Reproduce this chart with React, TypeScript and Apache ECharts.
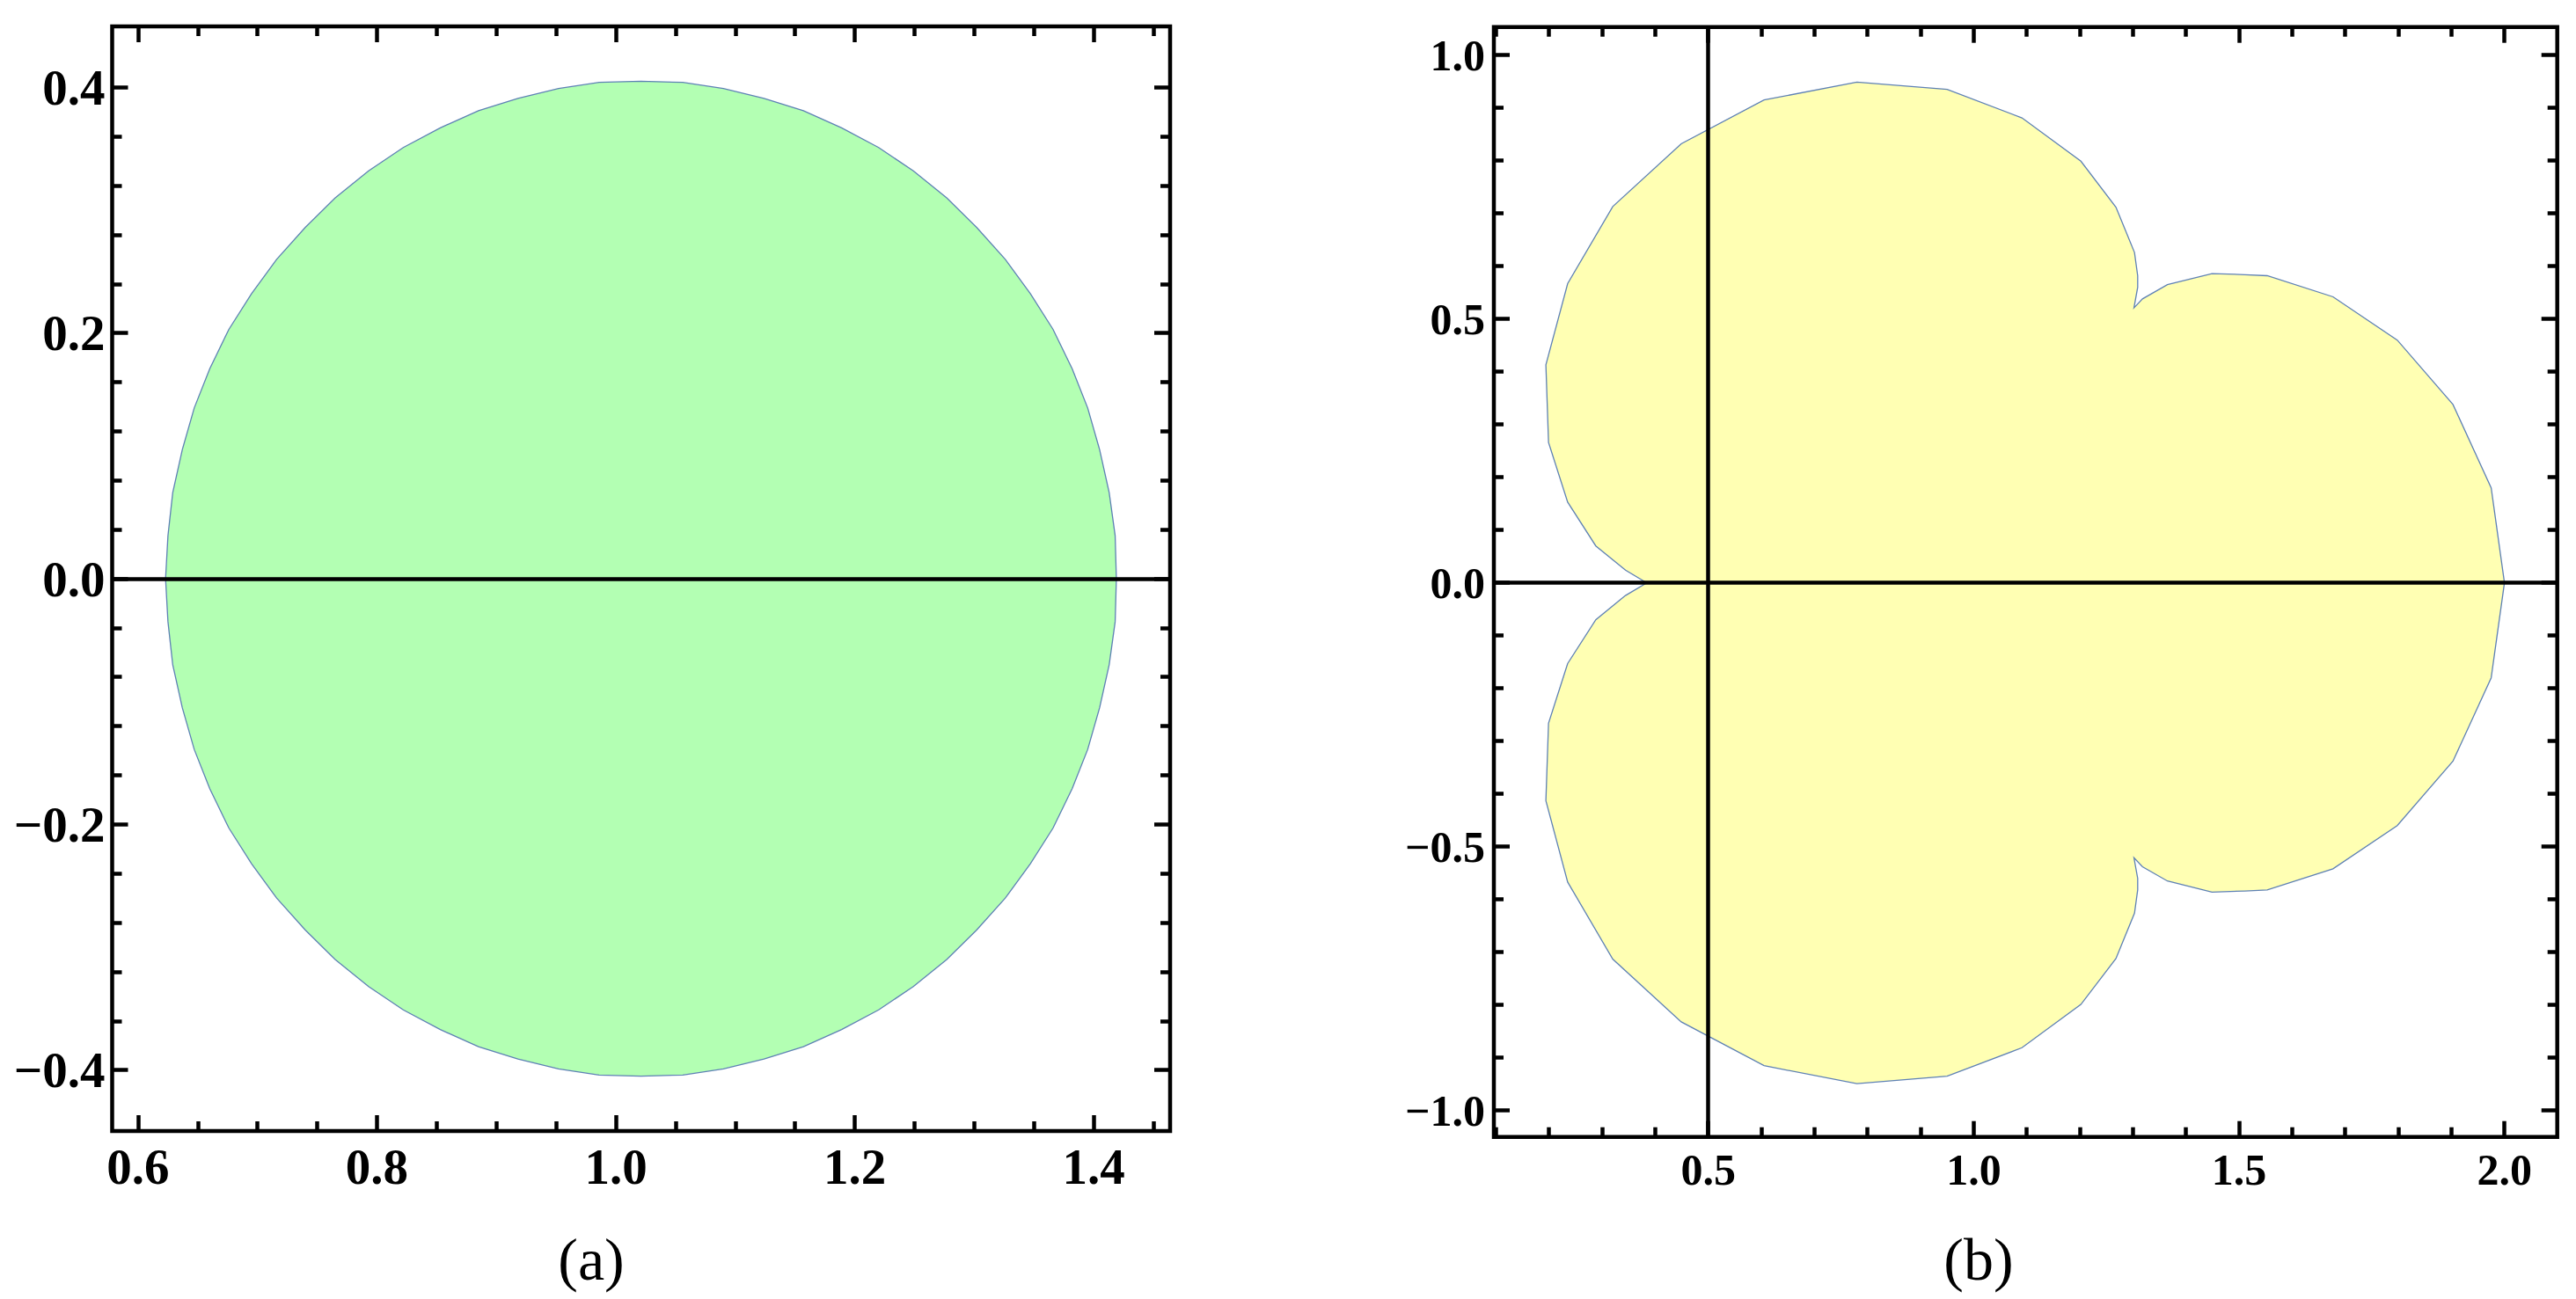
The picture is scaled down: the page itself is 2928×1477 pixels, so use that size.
import React, { useEffect, useRef } from 'react';
import * as echarts from 'echarts';

// ---------- data ----------
// (a) region boundary
const circleX = [1.419, 1.418, 1.413, 1.405, 1.395, 1.382, 1.366, 1.347, 1.326, 1.302, 1.277, 1.249, 1.220, 1.189, 1.157, 1.124, 1.090, 1.056,
  1.021, 0.986, 0.952, 0.918, 0.885, 0.853, 0.822, 0.793, 0.765, 0.740, 0.716, 0.695, 0.676, 0.660, 0.647, 0.637, 0.629, 0.625,
  0.623, 0.625, 0.629, 0.637, 0.647, 0.660, 0.676, 0.695, 0.716, 0.740, 0.765, 0.793, 0.822, 0.853, 0.885, 0.918, 0.952, 0.986,
  1.021, 1.056, 1.090, 1.124, 1.157, 1.189, 1.220, 1.249, 1.277, 1.302, 1.326, 1.347, 1.366, 1.382, 1.395, 1.405, 1.413, 1.418];
const circleY = [0.000, 0.035, 0.070, 0.105, 0.139, 0.171, 0.203, 0.232, 0.260, 0.286, 0.310, 0.332, 0.351, 0.367, 0.381, 0.391, 0.399, 0.404,
  0.405, 0.404, 0.399, 0.391, 0.381, 0.367, 0.351, 0.332, 0.310, 0.286, 0.260, 0.232, 0.203, 0.171, 0.139, 0.105, 0.070, 0.035,
  0.000, -0.035, -0.070, -0.105, -0.139, -0.171, -0.203, -0.232, -0.260, -0.286, -0.310, -0.332, -0.351, -0.367, -0.381, -0.391, -0.399, -0.404,
  -0.405, -0.404, -0.399, -0.391, -0.381, -0.367, -0.351, -0.332, -0.310, -0.286, -0.260, -0.232, -0.203, -0.171, -0.139, -0.105, -0.070, -0.035];

// (b) region boundary
const cloverX = [2.000, 1.975, 1.903, 1.798, 1.677, 1.553, 1.511, 1.449, 1.365, 1.318, 1.302, 1.309, 1.309, 1.303, 1.268, 1.202, 1.091, 0.950, 0.780, 0.605, 0.449, 0.320, 0.235, 0.194, 0.199, 0.235, 0.288, 0.344,
  0.384,
  0.344, 0.288, 0.235, 0.199, 0.194, 0.235, 0.320, 0.449, 0.605, 0.780, 0.950, 1.091, 1.202, 1.268, 1.303, 1.309, 1.309, 1.302, 1.318, 1.365, 1.449, 1.511, 1.553, 1.677, 1.798, 1.903, 1.975];
const cloverY = [0.000, 0.180, 0.338, 0.460, 0.542, 0.582, 0.584, 0.586, 0.565, 0.538, 0.521, 0.560, 0.582, 0.626, 0.712, 0.799, 0.881, 0.935, 0.949, 0.915, 0.832, 0.713, 0.567, 0.413, 0.266, 0.153, 0.070, 0.024,
  0.000,
  -0.024, -0.070, -0.153, -0.266, -0.413, -0.567, -0.713, -0.832, -0.915, -0.949, -0.935, -0.881, -0.799, -0.712, -0.626, -0.582, -0.560, -0.521, -0.538, -0.565, -0.586, -0.584, -0.582, -0.542, -0.460, -0.338, -0.180];

// tick values
const leftXTicks = [0.6, 0.8, 1.0, 1.2, 1.4];
const leftXMinor = [0.65, 0.7, 0.75, 0.85, 0.9, 0.95, 1.05, 1.1, 1.15, 1.25, 1.3, 1.35, 1.45];
const leftYTicks = [-0.4, -0.2, 0.0, 0.2, 0.4];
const leftYMinor = [-0.36, -0.32, -0.28, -0.24, -0.16, -0.12, -0.08, -0.04, 0.04, 0.08, 0.12, 0.16, 0.24, 0.28, 0.32, 0.36];
const rightXTicks = [0.5, 1.0, 1.5, 2.0];
const rightXMinor = [0.1, 0.2, 0.3, 0.4, 0.6, 0.7, 0.8, 0.9, 1.1, 1.2, 1.3, 1.4, 1.6, 1.7, 1.8, 1.9];
const rightYTicks = [-1.0, -0.5, 0.0, 0.5, 1.0];
const rightYMinor = [-0.9, -0.8, -0.7, -0.6, -0.4, -0.3, -0.2, -0.1, 0.1, 0.2, 0.3, 0.4, 0.6, 0.7, 0.8, 0.9];

const leftRange = { xMin: 0.5783, xMax: 1.464, yMin: -0.4496, yMax: 0.4496 };
const rightRange = { xMin: 0.096, xMax: 2.0995, yMin: -1.05, yMax: 1.0533 };

const captions = ['(a)', '(b)'];

// ---------- styling ----------
const SERIF = '"Liberation Serif", "Times New Roman", serif';
const fmt = (v: number) => {
  const s = Math.abs(v) < 1e-9 ? '0.0' : v.toFixed(1);
  return s.replace('-', '\u2212');
};

function axis(gridIndex: number, position: string, min: number, max: number,
  ticks: number[], tickLen: number, labels: boolean, fontSize: number, margin: number) {
  return {
    type: 'value',
    gridIndex,
    position,
    min,
    max,
    axisLine: { show: false, onZero: false },
    splitLine: { show: false },
    axisTick: {
      show: true,
      inside: true,
      length: tickLen,
      customValues: ticks,
      lineStyle: { color: '#000', width: 4.5 },
    },
    axisLabel: {
      show: labels,
      customValues: ticks,
      formatter: fmt,
      fontFamily: SERIF,
      fontWeight: 'bold',
      fontSize,
      color: '#000',
      margin,
    },
  };
}

function polygonSeries(xs: number[], ys: number[], axisIndex: number, fill: string, markData: any[]) {
  const data = xs.map((x, i) => [x, ys[i]]);
  return {
    type: 'custom',
    xAxisIndex: axisIndex,
    yAxisIndex: axisIndex,
    data,
    encode: { x: 0, y: 1 },
    clip: true,
    silent: true,
    renderItem: (params: any, api: any) => {
      if (params.dataIndex !== 0) return null;
      const pts = data.map((d) => api.coord(d));
      return {
        type: 'polygon',
        shape: { points: pts },
        style: { fill, stroke: '#5E81B5', lineWidth: 1.3 },
      };
    },
    markLine: {
      silent: true,
      symbol: ['none', 'none'],
      label: { show: false },
      lineStyle: { color: '#000', width: 4.5, type: 'solid' },
      data: markData,
      z: 5,
    },
  };
}

export default function App() {
  const ref = useRef<HTMLDivElement>(null);

  useEffect(() => {
    if (!ref.current) return;
    const chart = echarts.init(ref.current, undefined, { renderer: 'svg' });

    const gL = { left: 127.5, top: 30, width: 1202.5, height: 1256 };
    const gR = { left: 1698, top: 30.7, width: 1208.7, height: 1262 };
    const frame = { show: true, borderColor: '#000', borderWidth: 4.5, backgroundColor: 'transparent' };

    const L = leftRange;
    const R = rightRange;
    const fsL = 57;
    const fsR = 50;

    const option: any = {
      animation: false,
      backgroundColor: '#ffffff',
      grid: [
        { ...gL, ...frame },
        { ...gL, show: false },
        { ...gR, ...frame },
        { ...gR, show: false },
      ],
      xAxis: [
        axis(0, 'bottom', L.xMin, L.xMax, leftXTicks, 18, true, fsL, 12),
        axis(0, 'top', L.xMin, L.xMax, leftXTicks, 18, false, fsL, 12),
        axis(1, 'bottom', L.xMin, L.xMax, leftXMinor, 11, false, fsL, 12),
        axis(1, 'top', L.xMin, L.xMax, leftXMinor, 11, false, fsL, 12),
        axis(2, 'bottom', R.xMin, R.xMax, rightXTicks, 18, true, fsR, 12),
        axis(2, 'top', R.xMin, R.xMax, rightXTicks, 18, false, fsR, 12),
        axis(3, 'bottom', R.xMin, R.xMax, rightXMinor, 11, false, fsR, 12),
        axis(3, 'top', R.xMin, R.xMax, rightXMinor, 11, false, fsR, 12),
      ],
      yAxis: [
        axis(0, 'left', L.yMin, L.yMax, leftYTicks, 18, true, fsL, 8),
        axis(0, 'right', L.yMin, L.yMax, leftYTicks, 18, false, fsL, 8),
        axis(1, 'left', L.yMin, L.yMax, leftYMinor, 11, false, fsL, 8),
        axis(1, 'right', L.yMin, L.yMax, leftYMinor, 11, false, fsL, 8),
        axis(2, 'left', R.yMin, R.yMax, rightYTicks, 18, true, fsR, 10),
        axis(2, 'right', R.yMin, R.yMax, rightYTicks, 18, false, fsR, 10),
        axis(3, 'left', R.yMin, R.yMax, rightYMinor, 11, false, fsR, 10),
        axis(3, 'right', R.yMin, R.yMax, rightYMinor, 11, false, fsR, 10),
      ],
      series: [
        polygonSeries(circleX, circleY, 0, '#B3FFB3', [{ yAxis: 0 }]),
        polygonSeries(cloverX, cloverY, 4, '#FFFFB3', [{ yAxis: 0 }, { xAxis: 0.5 }]),
      ],
      graphic: [
        {
          type: 'text', x: 672, y: 1432, z: 10,
          style: { text: captions[0], fill: '#000', fontSize: 68, fontFamily: SERIF, align: 'center', verticalAlign: 'middle', textAlign: 'center', textVerticalAlign: 'middle' },
        },
        {
          type: 'text', x: 2249, y: 1432, z: 10,
          style: { text: captions[1], fill: '#000', fontSize: 68, fontFamily: SERIF, align: 'center', verticalAlign: 'middle', textAlign: 'center', textVerticalAlign: 'middle' },
        },
      ],
    };

    chart.setOption(option);
    return () => chart.dispose();
  }, []);

  return (
    <div
      ref={ref}
      style={{ position: 'absolute', left: 0, top: 0, width: 2928, height: 1477, background: '#fff' }}
    />
  );
}
